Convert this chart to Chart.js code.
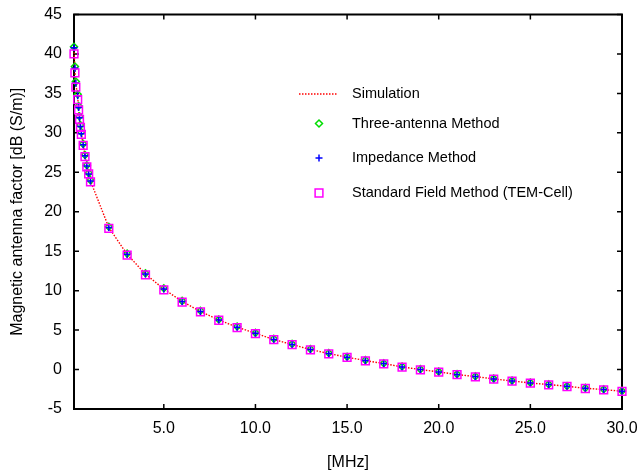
<!DOCTYPE html>
<html lang="en">
<head>
  <meta charset="UTF-8" />
  <title>Magnetic Antenna Factor</title>
  <script src="https://cdn.jsdelivr.net/npm/chart.js"></script>
  <style>
    body { margin: 0; background: #ffffff; }
    .chart-box { width: 639px; height: 474px; position: relative; }
  </style>
</head>
<body>
  <div class="chart-box"><canvas id="afChart"></canvas></div>

  <script>
    // frequencies [MHz]
    const freqMHz = [0.1, 0.15, 0.2, 0.3, 0.35, 0.4, 0.45, 0.5, 0.6, 0.7, 0.8, 0.9, 1.0,
      2, 3, 4, 5, 6, 7, 8, 9, 10, 11, 12, 13, 14, 15, 16, 17, 18, 19, 20,
      21, 22, 23, 24, 25, 26, 27, 28, 29, 30];

    // antenna factor [dB (S/m)]
    const simulation = [40.6, 38.1, 36.2, 34.6, 33.1, 31.8, 30.8, 29.9, 28.5, 27.1, 25.8, 24.8, 23.9,
      18.0, 14.6, 12.1, 10.2, 8.63, 7.36, 6.29, 5.37, 4.6, 3.81, 3.17, 2.54, 2.03, 1.56, 1.14, 0.76, 0.33, 0.0, -0.3,
      -0.63, -0.89, -1.19, -1.45, -1.7, -1.9, -2.12, -2.37, -2.54, -2.75];
    const threeAntenna = [40.9, 38.4, 36.5, 34.9, 33.4, 32.1, 31.0, 30.1, 28.6, 27.2, 25.9, 24.9, 24.0,
      18.1, 14.7, 12.2, 10.3, 8.7, 7.45, 6.35, 5.45, 4.65, 3.9, 3.25, 2.6, 2.1, 1.62, 1.2, 0.8, 0.38, 0.05, -0.26,
      -0.58, -0.85, -1.15, -1.4, -1.66, -1.86, -2.08, -2.33, -2.5, -2.71];
    const impedance = [40.8, 38.2, 36.3, 34.7, 33.2, 31.9, 30.8, 29.9, 28.5, 27.1, 25.8, 24.8, 23.9,
      18.0, 14.6, 12.1, 10.2, 8.63, 7.36, 6.29, 5.37, 4.6, 3.81, 3.17, 2.54, 2.03, 1.56, 1.14, 0.76, 0.33, 0.0, -0.3,
      -0.63, -0.89, -1.19, -1.45, -1.7, -1.9, -2.12, -2.37, -2.54, -2.75];
    const temCell = [40.0, 37.6, 35.8, 34.2, 32.9, 31.7, 30.7, 29.8, 28.4, 27.0, 25.7, 24.8, 23.8,
      17.9, 14.5, 12.0, 10.1, 8.55, 7.3, 6.25, 5.3, 4.55, 3.78, 3.15, 2.5, 2.0, 1.53, 1.1, 0.73, 0.3, -0.03, -0.32,
      -0.65, -0.92, -1.21, -1.47, -1.72, -1.93, -2.15, -2.4, -2.57, -2.78];

    const xTickValues = [5, 10, 15, 20, 25, 30];
    const seriesNames = ["Simulation", "Three-antenna Method", "Impedance Method", "Standard Field Method (TEM-Cell)"];

    const FONT = "'Liberation Sans', Arial, sans-serif";

    function toPoints(values) {
      return freqMHz.map((f, i) => ({ x: f, y: values[i] }));
    }

    // box around the plot with inward ticks on all sides (gnuplot look)
    const framePlugin = {
      id: 'frame',
      beforeDatasetsDraw(chart) {
        const { ctx, chartArea: a, scales: { x, y } } = chart;
        ctx.save();
        ctx.strokeStyle = '#000';
        ctx.lineWidth = 1.5;
        ctx.beginPath();
        xTickValues.forEach(v => {
          const px = x.getPixelForValue(v);
          ctx.moveTo(px, a.bottom); ctx.lineTo(px, a.bottom - 5);
          ctx.moveTo(px, a.top); ctx.lineTo(px, a.top + 5);
        });
        y.ticks.forEach(t => {
          const py = y.getPixelForValue(t.value);
          ctx.moveTo(a.left, py); ctx.lineTo(a.left + 5, py);
          ctx.moveTo(a.right, py); ctx.lineTo(a.right - 5, py);
        });
        ctx.stroke();
        ctx.lineWidth = 2;
        ctx.strokeRect(a.left, a.top, a.width, a.height);
        ctx.restore();
      }
    };

    // legend drawn inside the plot
    const legendRows = [94, 123.5, 158, 193];
    const keyPlugin = {
      id: 'key',
      afterDatasetsDraw(chart) {
        const ctx = chart.ctx;
        const sx = 319, tx = 352;
        ctx.save();
        chart.data.datasets.forEach((ds, i) => {
          const y = legendRows[i];
          ctx.strokeStyle = ds.borderColor;
          ctx.lineWidth = ds.pointBorderWidth || 1.5;
          ctx.beginPath();
          if (ds.showLine) {
            ctx.lineWidth = ds.borderWidth;
            ctx.setLineDash(ds.borderDash);
            ctx.moveTo(sx - 20, y); ctx.lineTo(sx + 18, y);
          } else if (ds.pointStyle === 'rectRot') {
            const r = ds.pointRadius;
            ctx.moveTo(sx, y - r); ctx.lineTo(sx + r, y); ctx.lineTo(sx, y + r); ctx.lineTo(sx - r, y); ctx.closePath();
          } else if (ds.pointStyle === 'cross') {
            const r = ds.pointRadius;
            ctx.moveTo(sx - r, y); ctx.lineTo(sx + r, y);
            ctx.moveTo(sx, y - r); ctx.lineTo(sx, y + r);
          } else {
            const h = ds.pointRadius * Math.SQRT1_2;
            ctx.rect(sx - h, y - h, 2 * h, 2 * h);
          }
          ctx.stroke();
          ctx.setLineDash([]);
          ctx.fillStyle = '#000';
          ctx.font = '14.5px ' + FONT;
          ctx.textBaseline = 'middle';
          ctx.fillText(ds.label, tx, y);
        });
        ctx.restore();
      }
    };

    new Chart(document.getElementById('afChart'), {
      type: 'scatter',
      data: {
        datasets: [
          {
            label: seriesNames[0], data: toPoints(simulation), showLine: true,
            borderColor: '#ff0000', borderWidth: 1.4, borderDash: [1.5, 1.5],
            pointRadius: 0, order: 4, clip: false
          },
          {
            label: seriesNames[1], data: toPoints(threeAntenna), showLine: false,
            borderColor: '#00dd00', backgroundColor: 'transparent', pointStyle: 'rectRot',
            pointRadius: 3.5, pointBorderWidth: 1.5, order: 3, clip: false
          },
          {
            label: seriesNames[2], data: toPoints(impedance), showLine: false,
            borderColor: '#0000ff', backgroundColor: 'transparent', pointStyle: 'cross',
            pointRadius: 3.5, pointBorderWidth: 1.5, order: 2, clip: false
          },
          {
            label: seriesNames[3], data: toPoints(temCell), showLine: false,
            borderColor: '#ff00ff', backgroundColor: 'transparent', pointStyle: 'rect',
            pointRadius: 5.5, pointBorderWidth: 1.5, order: 1, clip: false
          }
        ]
      },
      options: {
        responsive: true,
        maintainAspectRatio: false,
        animation: false,
        layout: { padding: { top: 14.5, right: 17, left: 0, bottom: 0 } },
        plugins: {
          legend: { display: false },
          tooltip: { enabled: false }
        },
        scales: {
          x: {
            type: 'linear',
            min: 0.1,
            max: 30,
            afterBuildTicks: s => { s.ticks = xTickValues.map(v => ({ value: v })); },
            afterFit: s => { s.height = 65; s.paddingLeft = 0; s.paddingRight = 0; },
            grid: { display: false, drawTicks: false },
            border: { display: false },
            ticks: {
              padding: 10,
              color: '#000',
              font: { family: FONT, size: 16 },
              maxRotation: 0,
              callback: v => Number(v).toFixed(1)
            },
            title: {
              display: true, text: '[MHz]', color: '#000',
              font: { family: FONT, size: 16 }, padding: { top: 0, bottom: 2 }
            }
          },
          y: {
            min: -5,
            max: 45,
            afterFit: s => { s.width = 74; s.paddingTop = 0; s.paddingBottom = 0; },
            grid: { display: false, drawTicks: false },
            border: { display: false },
            ticks: {
              stepSize: 5,
              padding: 12,
              color: '#000',
              font: { family: FONT, size: 16 }
            },
            title: {
              display: true, text: 'Magnetic antenna factor [dB (S/m)]', color: '#000',
              font: { family: FONT, size: 16 }, padding: { top: 8, bottom: 0 }
            }
          }
        }
      },
      plugins: [framePlugin, keyPlugin]
    });
  </script>
</body>
</html>
